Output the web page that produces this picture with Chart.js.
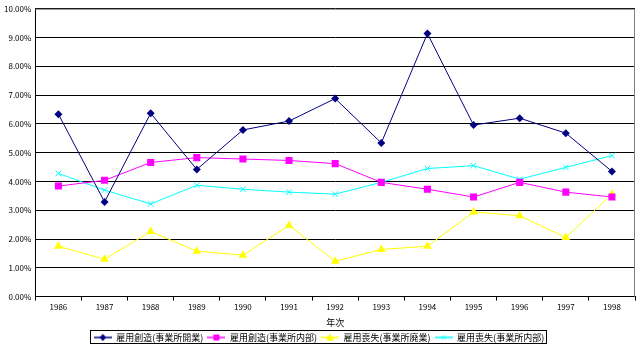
<!DOCTYPE html>
<html>
<head>
<meta charset="utf-8">
<script src="https://cdn.jsdelivr.net/npm/chart.js@4"></script>
<style>
  html, body { margin: 0; padding: 0; background: #fff; }
  #wrap { width: 640px; height: 352px; }
</style>
</head>
<body>
<div id="wrap"><canvas id="chart" width="640" height="352"></canvas></div>
<script>
const years = ["1986", "1987", "1988", "1989", "1990", "1991", "1992", "1993", "1994", "1995", "1996", "1997", "1998"];
const seriesNames = ["雇用創造(事業所開業)", "雇用創造(事業所内部)", "雇用喪失(事業所廃業)", "雇用喪失(事業所内部)"];
const createOpen = [6.34, 3.29, 6.37, 4.42, 5.79, 6.10, 6.88, 5.34, 9.14, 5.96, 6.20, 5.68, 4.35];
const createInternal = [3.84, 4.04, 4.66, 4.83, 4.78, 4.73, 4.62, 3.97, 3.73, 3.46, 3.97, 3.63, 3.46];
const lossClose = [1.75, 1.30, 2.26, 1.58, 1.44, 2.47, 1.23, 1.64, 1.75, 2.94, 2.81, 2.05, 3.56];
const lossInternal = [4.28, 3.70, 3.22, 3.87, 3.73, 3.63, 3.56, 3.97, 4.45, 4.55, 4.08, 4.49, 4.90];
const xTitle = "年次";

const colors = ["#000080", "#ff00ff", "#ffff00", "#00ffff"];
const markers = ["rectRot", "rect", "triangle", "crossRot"];
const radii = [4, 5, 5, 4];
const fontFamily = '"Noto Sans CJK JP", "DejaVu Sans", sans-serif';

// small legend swatch: line with the marker in the middle
function legendSwatch(i) {
    const c = document.createElement("canvas");
    c.width = 18;
    c.height = 10;
    const g = c.getContext("2d");
    g.strokeStyle = colors[i];
    g.fillStyle = colors[i];
    g.lineWidth = 1.5;
    g.beginPath();
    g.moveTo(0, 5);
    g.lineTo(18, 5);
    g.stroke();
    g.beginPath();
    const r = 3.5;
    if (markers[i] === "rectRot") {
        g.moveTo(9, 5 - r); g.lineTo(9 + r, 5); g.lineTo(9, 5 + r); g.lineTo(9 - r, 5);
        g.closePath(); g.fill();
    } else if (markers[i] === "rect") {
        g.fillRect(6, 2, 6, 6);
    } else if (markers[i] === "triangle") {
        g.moveTo(9, 1); g.lineTo(13, 8); g.lineTo(5, 8);
        g.closePath(); g.fill();
    } else {
        g.lineWidth = 1;
        g.moveTo(7, 3); g.lineTo(11, 7); g.moveTo(11, 3); g.lineTo(7, 7);
        g.stroke();
    }
    return c;
}

const plotFrame = {
    id: "plotFrame",
    afterDraw(chart) {
        const a = chart.chartArea;
        const ctx = chart.ctx;
        ctx.save();
        ctx.lineWidth = 1;
        ctx.strokeStyle = "#808080";
        ctx.beginPath();
        ctx.moveTo(a.left, a.top + 0.5);
        ctx.lineTo(a.right - 0.5, a.top + 0.5);
        ctx.lineTo(a.right - 0.5, a.bottom);
        ctx.stroke();
        // border around the legend
        const boxes = chart.legend.legendHitBoxes;
        if (boxes && boxes.length) {
            let l = Infinity, t = Infinity, r = -Infinity, b = -Infinity;
            boxes.forEach(h => {
                l = Math.min(l, h.left); t = Math.min(t, h.top);
                r = Math.max(r, h.left + h.width); b = Math.max(b, h.top + h.height);
            });
            ctx.strokeStyle = "#000";
            ctx.strokeRect(Math.round(l) - 3.5, Math.round(t) - 2.5, Math.round(r - l) + 6, Math.round(b - t) + 4);
        }
        ctx.restore();
    }
};

const datasets = [createOpen, createInternal, lossClose, lossInternal].map((values, i) => ({
    label: seriesNames[i],
    data: values,
    borderColor: colors[i],
    backgroundColor: colors[i],
    borderWidth: 1,
    pointStyle: markers[i],
    pointRadius: radii[i],
    pointBorderWidth: i === 3 ? 1 : 0,
    pointBorderColor: colors[i],
    pointBackgroundColor: colors[i],
    tension: 0
}));

new Chart(document.getElementById("chart"), {
    type: "line",
    data: { labels: years, datasets: datasets },
    options: {
        responsive: false,
        animation: false,
        devicePixelRatio: 1,
        layout: { padding: { left: 0, right: 2, top: 2, bottom: 0 } },
        plugins: {
            tooltip: { enabled: false },
            legend: {
                position: "bottom",
                labels: {
                    font: { family: fontFamily, size: 9 },
                    color: "#000",
                    usePointStyle: true,
                    pointStyleWidth: 18,
                    boxHeight: 9,
                    padding: 4,
                    generateLabels: chart => chart.data.datasets.map((ds, i) => ({
                        text: ds.label,
                        pointStyle: legendSwatch(i),
                        datasetIndex: i,
                        fillStyle: colors[i],
                        strokeStyle: colors[i],
                        lineWidth: 0,
                        hidden: false
                    }))
                }
            }
        },
        scales: {
            x: {
                offset: true,
                grid: {
                    offset: true,
                    drawOnChartArea: false,
                    drawTicks: true,
                    tickLength: 4,
                    color: "#000"
                },
                border: { color: "#000", width: 1 },
                ticks: {
                    font: { family: fontFamily, size: 8 },
                    color: "#000",
                    padding: 2,
                    maxRotation: 0,
                    autoSkip: false
                },
                title: {
                    display: true,
                    text: xTitle,
                    font: { family: fontFamily, size: 9 },
                    color: "#000",
                    padding: { top: 3, bottom: 1 }
                }
            },
            y: {
                min: 0,
                max: 10,
                ticks: {
                    stepSize: 1,
                    font: { family: fontFamily, size: 8 },
                    color: "#000",
                    padding: 4,
                    callback: v => v.toFixed(2) + "%"
                },
                grid: { color: "#000", drawTicks: false },
                border: { color: "#000", width: 1 }
            }
        }
    },
    plugins: [plotFrame]
});
</script>
</body>
</html>
